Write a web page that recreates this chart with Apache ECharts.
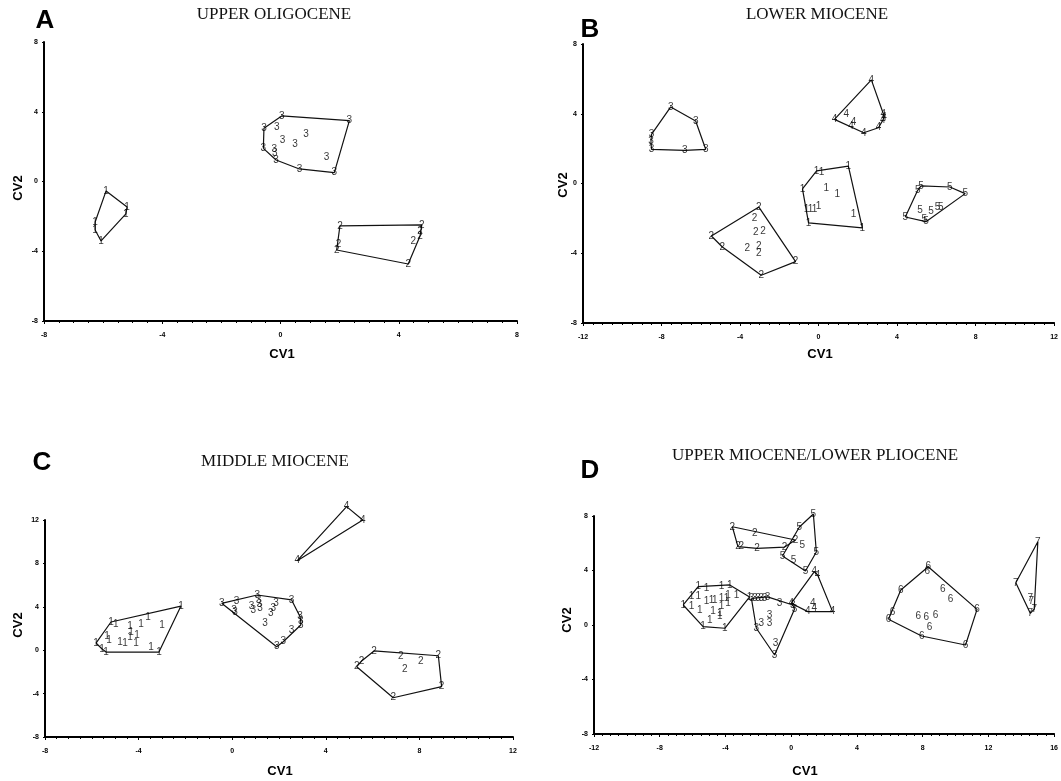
<!DOCTYPE html>
<html>
<head>
<meta charset="utf-8">
<script src="https://cdn.jsdelivr.net/npm/echarts@6/dist/echarts.min.js"></script>
<style>
  html, body { margin: 0; padding: 0; background: #fff; }
  #chart { width: 1061px; height: 781px; }
</style>
</head>
<body>
<div id="chart"></div>
<script>
// Canonical variate scores (CV1, CV2) per group, one set per time slice.

// A - Upper Oligocene
const A1 = [[-5.90,-0.54],[-5.19,-1.46],[-5.23,-1.86],[-6.27,-2.32],[-6.27,-2.78],[-6.07,-3.41]];
const A2 = [[2.01,-2.55],[4.78,-2.49],[4.72,-2.88],[4.72,-3.12],[4.49,-3.45],[1.96,-3.58],[1.90,-3.93],[4.32,-4.73]];
const A3 = [[0.04,3.76],[2.33,3.49],[-0.56,3.05],[-0.13,3.11],[0.86,2.72],[0.07,2.34],[0.49,2.13],
            [-0.58,1.90],[-0.21,1.85],[-0.19,1.62],[-0.15,1.23],[1.56,1.39],[0.64,0.72],[1.82,0.51]];

// B - Lower Miocene
const B1 = [[-0.10,0.72],[0.15,0.66],[1.52,1.00],[-0.82,-0.31],[0.40,-0.26],[0.96,-0.60],[-0.61,-1.46],
            [-0.41,-1.46],[-0.20,-1.46],[0.00,-1.29],[1.78,-1.75],[-0.51,-2.26],[2.23,-2.55]];
const B2 = [[-3.04,-1.35],[-3.26,-2.02],[-3.20,-2.78],[-2.83,-2.72],[-5.46,-3.01],[-4.90,-3.64],
            [-3.63,-3.71],[-3.04,-3.58],[-3.04,-4.02],[-1.17,-4.48],[-2.92,-5.26]];
const B3 = [[-7.53,4.39],[-6.26,3.58],[-8.51,2.82],[-8.54,2.40],[-8.51,1.96],[-6.81,1.90],[-5.75,1.96]];
const B4 = [[2.69,5.94],[0.81,3.68],[1.41,3.97],[1.78,3.54],[1.66,3.30],[2.30,2.91],[3.05,3.20],
            [3.30,4.00],[3.34,3.81],[3.27,3.62]];
const B5 = [[5.05,-0.39],[5.22,-0.14],[6.69,-0.20],[7.47,-0.58],[4.42,-1.92],[5.17,-1.54],[5.73,-1.62],
            [6.06,-1.39],[6.23,-1.35],[5.39,-2.05],[5.47,-2.19]];

// C - Middle Miocene
const C1 = [[-2.19,4.07],[-3.60,3.06],[-3.00,2.32],[-5.18,2.60],[-4.97,2.41],[-4.37,2.23],[-3.90,2.41],
            [-5.35,1.31],[-5.26,0.94],[-4.32,1.68],[-4.37,1.22],[-4.07,1.40],[-4.79,0.76],[-4.58,0.66],
            [-4.11,0.66],[-5.82,0.66],[-5.56,0.11],[-5.39,-0.17],[-3.47,0.29],[-3.13,-0.17]];
const C2 = [[6.06,-0.07],[5.53,-1.00],[5.32,-1.52],[7.20,-0.60],[8.06,-1.06],[8.81,-0.51],[7.38,-1.73],
            [8.95,-3.36],[6.88,-4.38]];
const C3 = [[-0.45,4.32],[0.19,4.53],[0.08,3.71],[0.12,3.49],[0.83,4.01],[0.90,3.71],[1.07,5.09],
            [1.12,4.63],[1.16,4.23],[1.19,3.86],[1.65,3.40],[1.76,3.86],[1.87,4.32],[2.54,4.63],
            [1.40,2.48],[2.90,3.09],[2.93,2.63],[2.93,2.32],[2.54,1.86],[2.18,0.78],[1.90,0.32]];
const C4 = [[4.89,13.23],[5.58,12.00],[2.78,8.25]];

// D - Upper Miocene / Lower Pliocene
const D1 = [[-5.66,2.81],[-5.15,2.69],[-4.24,2.81],[-3.74,2.94],[-6.06,2.08],[-5.66,2.08],[-5.15,1.71],
            [-4.85,1.83],[-4.65,1.83],[-4.24,1.96],[-3.94,1.96],[-3.84,2.20],[-3.33,2.20],[-6.06,1.34],
            [-5.56,1.10],[-4.75,0.98],[-4.35,0.86],[-4.24,1.34],[-3.84,1.59],[-4.95,0.37],[-4.35,0.61],
            [-5.36,-0.12],[-4.04,-0.24],[-6.57,1.47],[-2.53,2.06]];
const D2 = [[-3.58,7.21],[-2.22,6.73],[-3.24,5.75],[-3.03,5.75],[-2.08,5.63],[0.26,6.24],[-0.40,5.72]];
const D3 = [[-2.42,1.96],[-2.22,1.96],[-2.02,1.96],[-1.82,1.96],[-1.62,1.98],[-1.44,2.06],[-0.71,1.59],
            [0.10,1.47],[0.20,1.15],[-1.32,0.73],[-1.32,0.12],[-1.82,0.12],[-2.12,-0.24],[-0.95,-1.34],
            [-1.01,-2.20]];
const D4 = [[1.41,3.91],[1.61,3.67],[0.00,1.59],[1.31,1.59],[1.41,1.23],[1.01,0.98],[2.52,0.98]];
const D5 = [[1.35,8.15],[0.50,7.19],[0.68,5.87],[1.53,5.36],[-0.53,5.06],[0.14,4.77],[0.87,3.96]];
const D6 = [[8.34,4.28],[8.28,3.91],[6.67,2.57],[9.23,2.62],[9.70,1.89],[11.31,1.15],[6.16,0.90],
            [5.92,0.42],[7.73,0.61],[8.22,0.57],[8.79,0.73],[8.42,-0.17],[7.94,-0.81],[10.61,-1.47]];
const D7 = [[15.01,6.11],[13.67,3.10],[14.55,1.96],[14.61,1.71],[14.79,1.17],[14.55,0.86]];

// Panel headings and axis ranges
const letters = ['A', 'B', 'C', 'D'];
const titles = ['UPPER OLIGOCENE', 'LOWER MIOCENE', 'MIDDLE MIOCENE', 'UPPER MIOCENE/LOWER PLIOCENE'];
const xRanges = [[-8, 8], [-12, 12], [-8, 12], [-12, 16]];
const yRanges = [[-8, 8], [-8, 8], [-8, 12], [-8, 8]];
const groupSets = [
  [['1', A1], ['2', A2], ['3', A3]],
  [['1', B1], ['2', B2], ['3', B3], ['4', B4], ['5', B5]],
  [['1', C1], ['2', C2], ['3', C3], ['4', C4]],
  [['1', D1], ['2', D2], ['3', D3], ['4', D4], ['5', D5], ['6', D6], ['7', D7]]
];

// Plot boxes (pixels) and heading placement for each panel
const layout = [
  { grid: { left: 44, top: 42, width: 473, height: 279 }, letter: [45, 21], title: [274, 15], cv1: [282, 354], cv2: [18, 188] },
  { grid: { left: 583, top: 44, width: 472, height: 279 }, letter: [590, 30], title: [817, 15], cv1: [820, 354], cv2: [563, 185] },
  { grid: { left: 45, top: 520, width: 468, height: 217 }, letter: [42, 463], title: [275, 462], cv1: [280, 771], cv2: [18, 625] },
  { grid: { left: 594, top: 516, width: 462, height: 218 }, letter: [590, 471], title: [815, 456], cv1: [805, 771], cv2: [567, 620] }
];

// Convex hull (monotone chain), closed for drawing as a polyline
function convexHull(points) {
  const p = points.slice().sort((a, b) => a[0] - b[0] || a[1] - b[1]);
  const cross = (o, a, b) => (a[0] - o[0]) * (b[1] - o[1]) - (a[1] - o[1]) * (b[0] - o[0]);
  const lower = [], upper = [];
  for (const q of p) {
    while (lower.length >= 2 && cross(lower[lower.length - 2], lower[lower.length - 1], q) <= 0) lower.pop();
    lower.push(q);
  }
  for (const q of p.slice().reverse()) {
    while (upper.length >= 2 && cross(upper[upper.length - 2], upper[upper.length - 1], q) <= 0) upper.pop();
    upper.push(q);
  }
  lower.pop(); upper.pop();
  const h = lower.concat(upper);
  h.push(h[0]);
  return h;
}

const grids = [], xAxes = [], yAxes = [], series = [], graphics = [];
const tickLabel = { fontSize: 7, fontWeight: 'bold', color: '#000', fontFamily: 'Liberation Sans' };

layout.forEach((L, i) => {
  grids.push(L.grid);
  xAxes.push({
    type: 'value', gridIndex: i, min: xRanges[i][0], max: xRanges[i][1], interval: 4,
    axisLine: { show: true, onZero: false, lineStyle: { color: '#000', width: 2 } },
    axisTick: { show: true, length: 3, lineStyle: { color: '#000', width: 1 } },
    minorTick: { show: true, splitNumber: 8, length: 2, lineStyle: { color: '#000', width: 1 } },
    axisLabel: Object.assign({ margin: 11 }, tickLabel),
    splitLine: { show: false }
  });
  yAxes.push({
    type: 'value', gridIndex: i, min: yRanges[i][0], max: yRanges[i][1], interval: 4,
    axisLine: { show: true, onZero: false, lineStyle: { color: '#000', width: 2 } },
    axisTick: { show: true, length: 2, lineStyle: { color: '#000', width: 1 } },
    axisLabel: Object.assign({ margin: 6 }, tickLabel),
    splitLine: { show: false }
  });

  groupSets[i].forEach(([name, pts]) => {
    series.push({
      type: 'line', xAxisIndex: i, yAxisIndex: i, data: convexHull(pts),
      showSymbol: false, symbol: 'none', silent: true, clip: false,
      lineStyle: { color: '#111', width: 1.2 }, z: 2
    });
    series.push({
      type: 'scatter', xAxisIndex: i, yAxisIndex: i, data: pts,
      symbol: 'circle', symbolSize: 1, itemStyle: { color: 'rgba(0,0,0,0)' }, silent: true, clip: false,
      label: {
        show: true, position: 'inside', formatter: name, color: '#000',
        fontSize: 10, fontFamily: 'Liberation Sans'
      }, z: 3
    });
  });

  graphics.push(
    { type: 'text', x: L.letter[0], y: L.letter[1],
      style: { text: letters[i], font: 'bold 26px "Liberation Sans"', fill: '#000', textAlign: 'center', textVerticalAlign: 'middle' } },
    { type: 'text', x: L.title[0], y: L.title[1],
      style: { text: titles[i], font: '17px "Liberation Serif"', fill: '#111', textAlign: 'center', textVerticalAlign: 'middle' } },
    { type: 'text', x: L.cv1[0], y: L.cv1[1],
      style: { text: 'CV1', font: 'bold 13px "Liberation Sans"', fill: '#000', textAlign: 'center', textVerticalAlign: 'middle' } },
    { type: 'text', x: L.cv2[0], y: L.cv2[1], rotation: Math.PI / 2,
      style: { text: 'CV2', font: 'bold 13px "Liberation Sans"', fill: '#000', textAlign: 'center', textVerticalAlign: 'middle' } }
  );
});

const chart = echarts.init(document.getElementById('chart'), null, { renderer: 'canvas' });
chart.setOption({
  animation: false,
  backgroundColor: '#fff',
  grid: grids,
  xAxis: xAxes,
  yAxis: yAxes,
  series: series,
  graphic: graphics
});
</script>
</body>
</html>
